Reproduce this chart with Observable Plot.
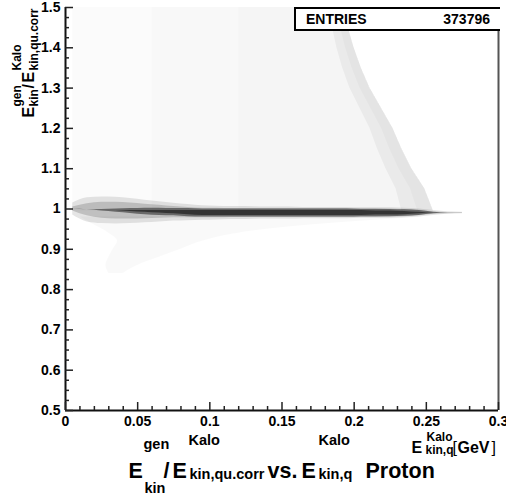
<!DOCTYPE html>
<html>
<head>
<meta charset="utf-8">
<script src="https://cdn.jsdelivr.net/npm/d3@7"></script>
<script src="https://cdn.jsdelivr.net/npm/@observablehq/plot@0.6"></script>
<style>
  html, body { margin: 0; padding: 0; background: #fff; }
  #wrap { position: relative; width: 506px; height: 496px; overflow: hidden; font-family: "Liberation Sans", Arial, sans-serif; }
  #stats { position: absolute; left: 294px; top: 7px; width: 204px; height: 20px; border: 2px solid #000; border-right: none; background: #fff; box-sizing: content-box; font-weight: bold; font-size: 14px; }
  #stats .k { position: absolute; left: 10px; top: 2px; }
  #stats .v { position: absolute; right: 10px; top: 2px; }
</style>
</head>
<body>
<div id="wrap"></div>
<script>
// ---- tick labels ----
const xMajor = [0, 0.05, 0.1, 0.15, 0.2, 0.25, 0.3];
const xTickLabels = ["0", "0.05", "0.1", "0.15", "0.2", "0.25", "0.3"];
const yMajor = [0.5, 0.6, 0.7, 0.8, 0.9, 1.0, 1.1, 1.2, 1.3, 1.4, 1.5];
const yTickLabels = ["0.5", "0.6", "0.7", "0.8", "0.9", "1", "1.1", "1.2", "1.3", "1.4", "1.5"];
const entries = "373796";

// ---- main band (ratio ~0.99), sampled every 0.01 in x; half-widths of density layers ----
const bandX      = [0.005,0.015,0.025,0.035,0.045,0.055,0.065,0.075,0.085,0.095,0.105,0.115,0.125,0.135,0.145,0.155,0.165,0.175,0.185,0.195,0.205,0.215,0.225,0.235,0.245,0.255,0.265,0.275];
const bandCenter = [1.0,0.998,0.997,0.996,0.995,0.994,0.993,0.992,0.991,0.99,0.99,0.99,0.99,0.99,0.99,0.99,0.99,0.99,0.99,0.99,0.99,0.99,0.99,0.99,0.99,0.99,0.99,0.99];
const haloHalf   = [0.015,0.03,0.033,0.033,0.031,0.028,0.025,0.022,0.02,0.018,0.017,0.016,0.016,0.015,0.015,0.015,0.014,0.014,0.014,0.014,0.013,0.013,0.013,0.012,0.01,0.006,0.003,0.002];
const cloudHalf  = [0.005,0.015,0.02,0.021,0.02,0.018,0.016,0.014,0.013,0.012,0.012,0.011,0.011,0.011,0.011,0.011,0.011,0.011,0.011,0.011,0.011,0.011,0.01,0.009,0.007,0.003,0.0015,0.001];
const coreHalf   = [0,0,0.002,0.004,0.006,0.008,0.009,0.009,0.01,0.01,0.01,0.01,0.01,0.01,0.01,0.01,0.01,0.01,0.01,0.01,0.009,0.009,0.009,0.008,0.006,0.002,0,0];
const innerHalf  = [0,0,0,0,0.001,0.002,0.003,0.004,0.005,0.006,0.006,0.006,0.006,0.006,0.006,0.006,0.006,0.006,0.006,0.006,0.006,0.005,0.005,0.004,0.002,0,0,0];

// ---- sparse wedge above the band ----
const upY     = [0.995,1.05,1.1,1.15,1.2,1.25,1.3,1.35,1.4,1.45,1.5];
const upEdge  = [0.255,0.249,0.240,0.233,0.227,0.219,0.211,0.205,0.200,0.196,0.192];
const upStrip = [0.022,0.02,0.018,0.017,0.016,0.015,0.014,0.013,0.012,0.011,0.01];

// ---- sparse fan below the band ----
const lowY  = [0.84,0.86,0.88,0.90,0.92,0.94,0.96,0.98];
const lowX1 = [0.03,0.028,0.03,0.033,0.036,0.03,0.02,0.01];
const lowX2 = [0.04,0.05,0.065,0.08,0.095,0.12,0.17,0.25];

const band = bandX.map((x, i) => ({x, c: bandCenter[i], h: haloHalf[i], cl: cloudHalf[i], co: coreHalf[i], in: innerHalf[i]}));
const up = upY.map((y, i) => ({y, e: upEdge[i], s: upStrip[i]}));
const low = lowY.map((y, i) => ({y, a: lowX1[i], b: lowX2[i]}));

const W = 506, H = 496, ML = 65, MR = 8, MT = 7, MB = 86;
const innerW = W - ML - MR, innerH = H - MT - MB;

const xMinor = d3.range(0, 0.3001, 0.01).filter(v => !xMajor.some(m => Math.abs(m - v) < 1e-6));
const yMinor = d3.range(0.5, 1.5001, 0.025).filter(v => !yMajor.some(m => Math.abs(m - v) < 1e-6));

function lbl(t, x, y, size, opts = {}) {
  return Plot.text([t], {
    text: d => d, frameAnchor: "top-left", dx: x - ML, dy: y - MT,
    fontSize: size, fontWeight: opts.weight || "bold", textAnchor: "start",
    lineAnchor: "bottom", rotate: opts.rotate || 0, fill: "#000"
  });
}

const titleMarks = [
  lbl("E", 128, 477, 21.5),
  lbl("gen", 143, 448, 14.5),
  lbl("kin", 144, 492, 14.5),
  lbl("/", 163, 477, 21.5),
  lbl("E", 172, 477, 21.5),
  lbl("Kalo", 188, 444, 14.5),
  lbl("kin,qu.corr", 189, 478, 14.5),
  lbl("vs.", 267, 477, 21.5),
  lbl("E", 301, 477, 21.5),
  lbl("Kalo", 318, 444, 14.5),
  lbl("kin,q", 318, 478, 14.5),
  lbl("Proton", 365, 477, 21.5),
  lbl("E", 411, 452, 16),
  lbl("Kalo", 426, 440, 12),
  lbl("kin,q", 425, 453, 12),
  lbl("[", 452, 452, 16, {weight: "normal"}),
  lbl("GeV", 457, 452, 16),
  lbl("]", 491, 452, 16, {weight: "normal"}),
  lbl("E", 33, 117, 16, {rotate: -90}),
  lbl("gen", 20, 106, 12, {rotate: -90}),
  lbl("kin", 37, 106, 12, {rotate: -90}),
  lbl("/", 33, 88, 16, {rotate: -90}),
  lbl("E", 33, 82, 16, {rotate: -90}),
  lbl("Kalo", 20, 70, 12, {rotate: -90}),
  lbl("kin,qu.corr", 37, 70, 12, {rotate: -90})
];

const chart = Plot.plot({
  width: W, height: H,
  marginLeft: ML, marginRight: MR, marginTop: MT, marginBottom: MB,
  style: {fontFamily: '"Liberation Sans", Arial, sans-serif', fontSize: "14px", fontWeight: "bold", background: "#fff", overflow: "visible"},
  x: {domain: [0, 0.3]},
  y: {domain: [0.5, 1.5]},
  marks: [
    Plot.areaX(up, {y: "y", x1: () => 0.005, x2: "e", fill: "#000", fillOpacity: 0.014}),
    Plot.areaX(up, {y: "y", x1: () => 0.06, x2: "e", fill: "#000", fillOpacity: 0.01}),
    Plot.areaX(up, {y: "y", x1: () => 0.12, x2: "e", fill: "#000", fillOpacity: 0.01}),
    Plot.areaX(up, {y: "y", x1: d => d.e - d.s, x2: "e", fill: "#000", fillOpacity: 0.045}),
    Plot.areaX(up, {y: "y", x1: d => d.e - d.s * 0.5, x2: "e", fill: "#000", fillOpacity: 0.025}),
    Plot.areaX(low, {y: "y", x1: "a", x2: "b", fill: "#000", fillOpacity: 0.025, curve: "monotone-y"}),
    Plot.areaY(band, {x: "x", y1: d => d.c - d.h, y2: d => d.c + d.h, fill: "#000", fillOpacity: 0.1, curve: "monotone-x"}),
    Plot.areaY(band, {x: "x", y1: d => d.c - d.cl, y2: d => d.c + d.cl, fill: "#000", fillOpacity: 0.16, curve: "monotone-x"}),
    Plot.areaY(band, {x: "x", y1: d => d.c - d.co, y2: d => d.c + d.co, fill: "#000", fillOpacity: 0.45, curve: "monotone-x"}),
    Plot.areaY(band, {x: "x", y1: d => d.c - d.in, y2: d => d.c + d.in, fill: "#000", fillOpacity: 0.5, curve: "monotone-x"}),
    Plot.ruleX([0], {stroke: "#111", strokeWidth: 2}),
    Plot.ruleX([0.3], {stroke: "#555", strokeWidth: 2}),
    Plot.ruleY([0.5], {stroke: "#111", strokeWidth: 2}),
    Plot.tickX(xMajor, {x: d => d, insetTop: innerH - 8, stroke: "#222", strokeWidth: 1.5}),
    Plot.tickX(xMinor, {x: d => d, insetTop: innerH - 4, stroke: "#222", strokeWidth: 1.5}),
    Plot.tickY(yMajor, {y: d => d, insetRight: innerW - 8, stroke: "#222", strokeWidth: 1.5}),
    Plot.tickY(yMinor, {y: d => d, insetRight: innerW - 4, stroke: "#222", strokeWidth: 1.5}),
    Plot.axisX({ticks: xMajor, tickSize: 0, tickPadding: 6, label: null, fontSize: 14, fontWeight: "bold",
      tickFormat: d => xTickLabels[xMajor.findIndex(m => Math.abs(m - d) < 1e-9)]}),
    Plot.axisY({ticks: yMajor, tickSize: 0, tickPadding: 5, label: null, fontSize: 14, fontWeight: "bold",
      tickFormat: d => yTickLabels[yMajor.findIndex(m => Math.abs(m - d) < 1e-9)]}),
    ...titleMarks
  ]
});

const wrap = document.getElementById("wrap");
wrap.appendChild(chart);
const stats = document.createElement("div");
stats.id = "stats";
stats.innerHTML = '<span class="k">ENTRIES</span><span class="v">' + entries + '</span>';
wrap.appendChild(stats);
</script>
</body>
</html>
